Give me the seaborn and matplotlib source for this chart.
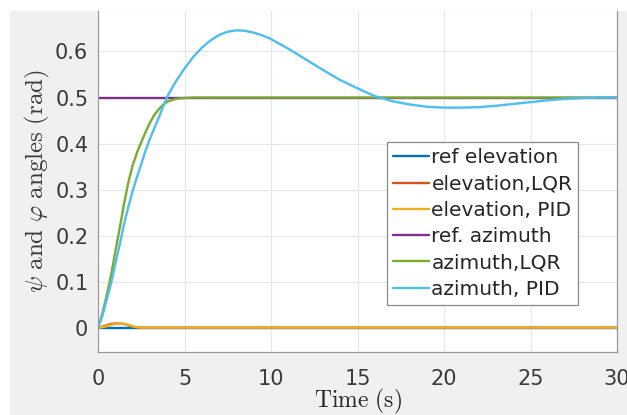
import numpy as np
import pandas as pd
import matplotlib
matplotlib.use("Agg")
import matplotlib.pyplot as plt
from matplotlib.patches import Rectangle
import seaborn as sns

# values
t_el = [0, 0.25, 0.5, 0.75, 1, 1.25, 1.5, 1.75, 2, 2.25, 2.5, 3, 30]
ref_el = [0, 0, 0, 0, 0, 0, 0, 0, 0, 0, 0, 0, 0]
el_lqr = [0, 0.002, 0.005, 0.008, 0.009, 0.009, 0.008, 0.005, 0.002, 0.0005, 0, 0, 0]
el_pid = [0, 0.001, 0.003, 0.006, 0.008, 0.009, 0.008, 0.006, 0.003, 0.001, 0, 0, 0]

t_az = [0, 0.25, 0.5, 0.75, 1, 1.25, 1.5, 1.75, 2, 2.25, 2.5, 2.75, 3, 3.25, 3.5,
        3.75, 4, 4.5, 5, 5.5, 6, 6.5, 7, 7.5, 8, 8.5, 9, 9.5, 10, 11, 12, 13, 14,
        15, 16, 17, 18, 19, 20, 21, 22, 23, 24, 25, 26, 27, 28, 29, 30]
ref_az = [0.5] * len(t_az)
az_lqr = [0, 0.03, 0.07, 0.113, 0.165, 0.215, 0.268, 0.315, 0.352, 0.38, 0.403,
          0.425, 0.445, 0.462, 0.474, 0.484, 0.491, 0.497, 0.499, 0.5, 0.5, 0.5,
          0.5, 0.5, 0.5, 0.5, 0.5, 0.5, 0.5, 0.5, 0.5, 0.5, 0.5, 0.5, 0.5, 0.5,
          0.5, 0.5, 0.5, 0.5, 0.5, 0.5, 0.5, 0.5, 0.5, 0.5, 0.5, 0.5, 0.5]
az_pid = [0, 0.025, 0.06, 0.095, 0.138, 0.18, 0.224, 0.262, 0.296, 0.327, 0.355,
          0.385, 0.41, 0.433, 0.455, 0.479, 0.502, 0.535, 0.563, 0.588, 0.608,
          0.624, 0.636, 0.643, 0.646, 0.645, 0.641, 0.635, 0.627, 0.606, 0.583,
          0.56, 0.538, 0.52, 0.503, 0.492, 0.485, 0.48, 0.478, 0.478, 0.479,
          0.482, 0.486, 0.49, 0.494, 0.497, 0.499, 0.5, 0.5]

series = [
    ("ref elevation", t_el, ref_el, "#0072BD"),
    ("elevation,LQR", t_el, el_lqr, "#D95319"),
    ("elevation, PID", t_el, el_pid, "#EDB120"),
    ("ref. azimuth", t_az, ref_az, "#7E2F8E"),
    ("azimuth,LQR", t_az, az_lqr, "#77AC30"),
    ("azimuth, PID", t_az, az_pid, "#4DBEEE"),
]

sns.set_style("whitegrid")
plt.rcParams["font.family"] = ["DejaVu Sans"]
plt.rcParams["mathtext.fontset"] = "cm"

fig = plt.figure(figsize=(6.27, 4.15), dpi=100, facecolor="white")
# grey window area (screenshot has a thin white margin at top and left)
fig.patches.append(Rectangle((10 / 627, 0), 1, 1 - 11 / 415,
                             transform=fig.transFigure, color="#f0f0f0", zorder=-1))
ax = fig.add_axes([98 / 627, 1 - 352 / 415, 519 / 627, 341 / 415])
ax.set_facecolor("white")

for name, t, v, col in series:
    sns.lineplot(x=t, y=v, ax=ax, color=col, label=name, linewidth=1.7,
                 estimator=None, sort=False)

ax.set_xlim(0, 30)
ax.set_ylim(-0.053, 0.688)
ax.set_xticks([0, 5, 10, 15, 20, 25, 30])
ax.set_yticks([0, 0.1, 0.2, 0.3, 0.4, 0.5, 0.6])
ax.set_yticklabels(["0", "0.1", "0.2", "0.3", "0.4", "0.5", "0.6"])
ax.grid(True, color="#e6e6e6", linewidth=0.8)
ax.tick_params(axis="both", labelsize=15, colors="#3a3a3a", direction="in",
               length=3)
ax.tick_params(axis="y", pad=7)
ax.tick_params(axis="x", pad=12)
for s in ax.spines.values():
    s.set_color("#9a9a9a")
    s.set_linewidth(0.9)
ax.spines["top"].set_visible(False)

ax.set_xlabel(r"$\mathrm{Time\ (s)}$", fontsize=17, color="#262626", labelpad=-1)
ax.set_ylabel(r"$\psi\ \mathrm{and}\ \varphi\ \mathrm{angles\ (rad)}$",
              fontsize=18, color="#3a3a3a", labelpad=2)

leg = ax.legend(loc="upper left", bbox_to_anchor=(0.557, 0.615), borderaxespad=0,
                fontsize=14.5, frameon=True, fancybox=False, framealpha=1,
                edgecolor="#8a8a8a", handlelength=1.8, handletextpad=0.1,
                labelspacing=0.36, borderpad=0.3)
leg.get_frame().set_linewidth(0.9)

fig.savefig("out.png", dpi=100, facecolor=fig.get_facecolor())
